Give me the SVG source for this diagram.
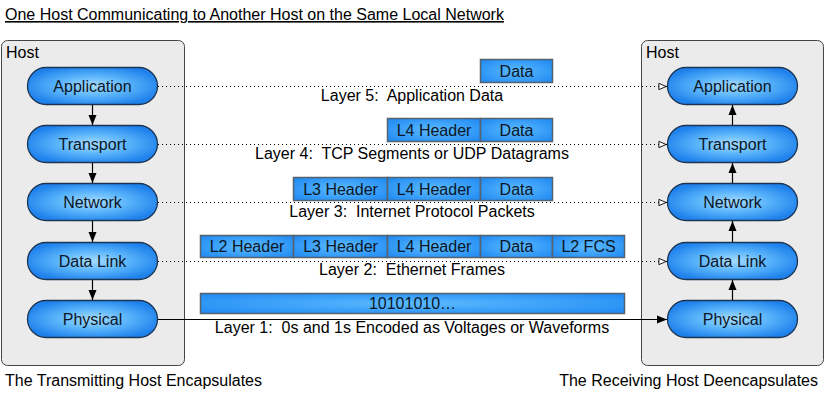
<svg xmlns="http://www.w3.org/2000/svg" width="825" height="395" viewBox="0 0 825 395">
<defs>
<radialGradient id="pillG" cx="50%" cy="50%" r="55%">
<stop offset="0" stop-color="#a6dcff"/>
<stop offset="0.5" stop-color="#5ab4fb"/>
<stop offset="1" stop-color="#1f82ec"/>
</radialGradient>
<radialGradient id="boxG" cx="50%" cy="50%" r="70%">
<stop offset="0" stop-color="#5cbaff"/>
<stop offset="1" stop-color="#1c88f2"/>
</radialGradient>
<marker id="filled" viewBox="0 0 10 10" refX="10" refY="5" markerWidth="10" markerHeight="10" markerUnits="userSpaceOnUse" orient="auto">
<path d="M0,1 L10,5 L0,9 Z" fill="#000"/>
</marker>
<marker id="open" viewBox="0 0 10 10" refX="10" refY="5" markerWidth="9" markerHeight="9" markerUnits="userSpaceOnUse" orient="auto">
<path d="M1,1.5 L9,5 L1,8.5 Z" fill="#fff" stroke="#000" stroke-width="1"/>
</marker>
</defs>
<style>
text{font-family:"Liberation Sans",Arial,sans-serif;fill:#000;white-space:pre}
.t{font-size:16px}
.pill{fill:url(#pillG);stroke:#1c3552;stroke-width:1.3}
.host{fill:#ebebeb;stroke:#444;stroke-width:1}
.pk{fill:url(#boxG);stroke:#56626e;stroke-width:1.5}
.pt{font-size:16px;text-anchor:middle;fill:#0b1626}
.lt{font-size:16px;text-anchor:middle}
.dot{stroke:#000;stroke-width:1;stroke-dasharray:1 3;fill:none}
.sol{stroke:#000;stroke-width:1.2;fill:none}
</style>
<text class="t" x="5" y="20" text-decoration="underline">One Host Communicating to Another Host on the Same Local Network</text>

<g id="host-left">
<rect class="host" x="1.5" y="40.5" width="183" height="325" rx="6"/>
<text class="t" x="6" y="58">Host</text>
</g>
<g id="host-right">
<rect class="host" x="641.5" y="40.5" width="182" height="325" rx="6"/>
<text class="t" x="646" y="58">Host</text>
</g>

<g id="l-app"><rect class="pill" x="27.5" y="67.5" width="130" height="37" rx="18.5"/><text class="pt" x="92.5" y="91.5">Application</text></g>
<g id="l-trans"><rect class="pill" x="27.5" y="125.5" width="130" height="37" rx="18.5"/><text class="pt" x="92.5" y="149.5">Transport</text></g>
<g id="l-net"><rect class="pill" x="27.5" y="183.5" width="130" height="37" rx="18.5"/><text class="pt" x="92.5" y="207.5">Network</text></g>
<g id="l-dl"><rect class="pill" x="27.5" y="242.5" width="130" height="37" rx="18.5"/><text class="pt" x="92.5" y="266.5">Data Link</text></g>
<g id="l-phy"><rect class="pill" x="27.5" y="300.5" width="130" height="37" rx="18.5"/><text class="pt" x="92.5" y="324.5">Physical</text></g>

<g id="r-app"><rect class="pill" x="667.5" y="67.5" width="130" height="37" rx="18.5"/><text class="pt" x="732.5" y="91.5">Application</text></g>
<g id="r-trans"><rect class="pill" x="667.5" y="125.5" width="130" height="37" rx="18.5"/><text class="pt" x="732.5" y="149.5">Transport</text></g>
<g id="r-net"><rect class="pill" x="667.5" y="183.5" width="130" height="37" rx="18.5"/><text class="pt" x="732.5" y="207.5">Network</text></g>
<g id="r-dl"><rect class="pill" x="667.5" y="242.5" width="130" height="37" rx="18.5"/><text class="pt" x="732.5" y="266.5">Data Link</text></g>
<g id="r-phy"><rect class="pill" x="667.5" y="300.5" width="130" height="37" rx="18.5"/><text class="pt" x="732.5" y="324.5">Physical</text></g>

<g id="connectors">
<line class="sol" x1="92.5" y1="105" x2="92.5" y2="125" marker-end="url(#filled)"/>
<line class="sol" x1="92.5" y1="163" x2="92.5" y2="183" marker-end="url(#filled)"/>
<line class="sol" x1="92.5" y1="221" x2="92.5" y2="242" marker-end="url(#filled)"/>
<line class="sol" x1="92.5" y1="280" x2="92.5" y2="300" marker-end="url(#filled)"/>
<line class="sol" x1="732.5" y1="125" x2="732.5" y2="105" marker-end="url(#filled)"/>
<line class="sol" x1="732.5" y1="183" x2="732.5" y2="163" marker-end="url(#filled)"/>
<line class="sol" x1="732.5" y1="242" x2="732.5" y2="221" marker-end="url(#filled)"/>
<line class="sol" x1="732.5" y1="300" x2="732.5" y2="280" marker-end="url(#filled)"/>
<line class="dot" x1="158" y1="86.5" x2="667" y2="86.5" marker-end="url(#open)"/>
<line class="dot" x1="158" y1="144.5" x2="667" y2="144.5" marker-end="url(#open)"/>
<line class="dot" x1="158" y1="202.5" x2="667" y2="202.5" marker-end="url(#open)"/>
<line class="dot" x1="158" y1="261.5" x2="667" y2="261.5" marker-end="url(#open)"/>
<line class="sol" x1="158" y1="319.5" x2="667" y2="319.5" marker-end="url(#filled)"/>
</g>

<g id="layer5">
<rect class="pk" x="480.5" y="59.5" width="72" height="23"/><text class="pt" x="516.5" y="76.5">Data</text>
<text class="lt" x="412" y="101">Layer 5:  Application Data</text>
</g>
<g id="layer4">
<rect class="pk" x="387.5" y="118.5" width="93" height="23"/><text class="pt" x="434" y="135.5">L4 Header</text>
<rect class="pk" x="480.5" y="118.5" width="72" height="23"/><text class="pt" x="516.5" y="135.5">Data</text>
<text class="lt" x="412" y="159">Layer 4:  TCP Segments or UDP Datagrams</text>
</g>
<g id="layer3">
<rect class="pk" x="293.5" y="177.5" width="94" height="23"/><text class="pt" x="340.5" y="194.5">L3 Header</text>
<rect class="pk" x="387.5" y="177.5" width="93" height="23"/><text class="pt" x="434" y="194.5">L4 Header</text>
<rect class="pk" x="480.5" y="177.5" width="72" height="23"/><text class="pt" x="516.5" y="194.5">Data</text>
<text class="lt" x="412" y="217">Layer 3:  Internet Protocol Packets</text>
</g>
<g id="layer2">
<rect class="pk" x="200.5" y="235.5" width="93" height="22"/><text class="pt" x="247" y="252">L2 Header</text>
<rect class="pk" x="293.5" y="235.5" width="94" height="22"/><text class="pt" x="340.5" y="252">L3 Header</text>
<rect class="pk" x="387.5" y="235.5" width="93" height="22"/><text class="pt" x="434" y="252">L4 Header</text>
<rect class="pk" x="480.5" y="235.5" width="72" height="22"/><text class="pt" x="516.5" y="252">Data</text>
<rect class="pk" x="552.5" y="235.5" width="72" height="22"/><text class="pt" x="588.5" y="252">L2 FCS</text>
<text class="lt" x="412" y="275">Layer 2:  Ethernet Frames</text>
</g>
<g id="layer1">
<rect class="pk" x="200.5" y="293.5" width="424" height="20"/><text class="pt" x="412.5" y="309">10101010…</text>
<text class="lt" x="412" y="333">Layer 1:  0s and 1s Encoded as Voltages or Waveforms</text>
</g>

<text class="t" x="5" y="386">The Transmitting Host Encapsulates</text>
<text class="t" x="818" y="386" text-anchor="end">The Receiving Host Deencapsulates</text>
</svg>
